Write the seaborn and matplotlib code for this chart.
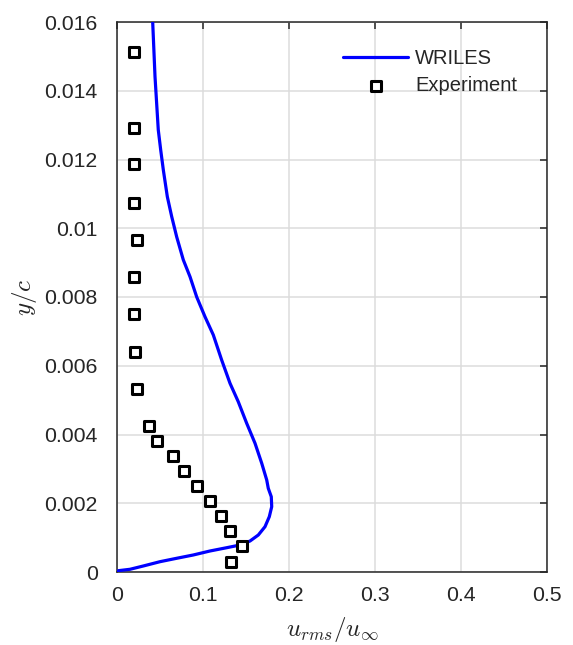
import matplotlib
matplotlib.use("Agg")
import matplotlib.pyplot as plt
import seaborn as sns
import numpy as np
import pandas as pd
from matplotlib.ticker import FuncFormatter

# WRILES profile (u_rms/u_inf vs y/c)
les_u = [0.0, 0.0015, 0.0151, 0.0306, 0.0500, 0.0694, 0.0887, 0.1081, 0.1276, 0.1430,
         0.1547, 0.1643, 0.1721, 0.1771, 0.1799, 0.1794, 0.1759, 0.1741, 0.1683,
         0.1605, 0.1508, 0.1410, 0.1314, 0.1217, 0.1120, 0.1023, 0.0927, 0.0849,
         0.0771, 0.0694, 0.0636, 0.0585, 0.0539, 0.0508, 0.0480, 0.0442, 0.0415]
les_y = [0.0, 0.000038, 0.000079, 0.000175, 0.000300, 0.000399, 0.000495, 0.000611, 0.000707, 0.000785,
         0.000902, 0.001076, 0.001318, 0.001609, 0.001900, 0.002190, 0.002435, 0.002676, 0.003162,
         0.003744, 0.004326, 0.004954, 0.005490, 0.006167, 0.006895, 0.007427, 0.008000, 0.008590,
         0.009080, 0.009750, 0.010340, 0.010920, 0.011690, 0.012280, 0.012860, 0.014410, 0.016000]

# Experiment
exp_u = [0.0198, 0.0198, 0.0198, 0.0198, 0.023, 0.0198, 0.0198, 0.021, 0.023,
         0.0372, 0.0465, 0.065, 0.078, 0.093, 0.108, 0.121, 0.131, 0.145, 0.1326]
exp_y = [0.01513, 0.01292, 0.01187, 0.01073, 0.00966, 0.00858, 0.00751, 0.0064, 0.00532,
         0.00425, 0.00381, 0.00337, 0.00294, 0.0025, 0.00207, 0.00163, 0.00119, 0.00076, 0.00029]

x_ticks = [0, 0.1, 0.2, 0.3, 0.4, 0.5]
y_ticks = [0, 0.002, 0.004, 0.006, 0.008, 0.01, 0.012, 0.014, 0.016]

sns.set_style("white")
plt.rcParams['font.family'] = ['Liberation Sans', 'DejaVu Sans']
plt.rcParams['mathtext.fontset'] = 'cm'

fig = plt.figure(figsize=(5.73, 6.45), dpi=100)
ax = fig.add_axes([117/573, 73/645, 430/573, 550/645])

les = pd.DataFrame({"u": les_u, "y": les_y})
exp = pd.DataFrame({"u": exp_u, "y": exp_y})

sns.lineplot(data=les, x="u", y="y", sort=False, estimator=None, errorbar=None,
             color="#0000ff", linewidth=2.3, ax=ax, label="WRILES", zorder=3)
sns.scatterplot(data=exp, x="u", y="y", marker="s", s=62, facecolor="white",
                edgecolor="black", linewidth=2.2, ax=ax, label="Experiment", zorder=4)

ax.set_xlim(0, 0.5)
ax.set_ylim(0, 0.016)
ax.set_xticks(x_ticks)
ax.set_yticks(y_ticks)
fmt = FuncFormatter(lambda v, p: "%g" % round(v, 6))
ax.xaxis.set_major_formatter(fmt)
ax.yaxis.set_major_formatter(fmt)
ax.grid(True, color="#dcdcdc", linewidth=1.1)
ax.set_axisbelow(True)
ax.tick_params(direction="in", length=5, width=1.1, color="#262626",
               labelsize=15.3, labelcolor="#262626", top=True, right=True)
ax.tick_params(axis="x", pad=10)
ax.tick_params(axis="y", pad=14)
for s in ax.spines.values():
    s.set_color("#262626")
    s.set_linewidth(1.1)
    s.set_visible(True)

ax.set_xlabel(r"$u_{rms}/u_{\infty}$", fontsize=18, labelpad=7)
ax.set_ylabel(r"$y/c$", fontsize=18, labelpad=4)

leg = ax.legend(loc="upper right", bbox_to_anchor=(0.93, 0.951), frameon=False,
                borderaxespad=0, borderpad=0,
                fontsize=14.5, handlelength=3.2, handletextpad=0.35, labelspacing=0.4)

fig.savefig("out.png", dpi=100)
